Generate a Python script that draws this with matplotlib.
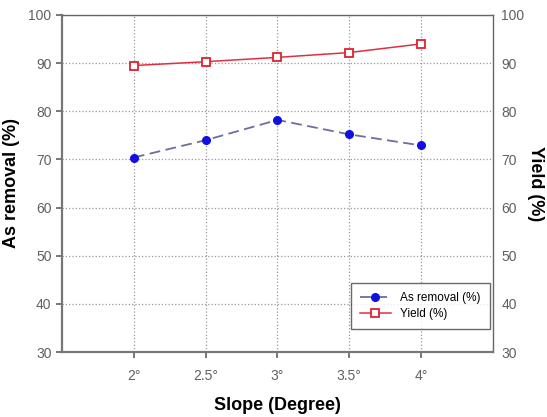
import matplotlib
matplotlib.use("Agg")
import matplotlib.pyplot as plt

plt.rcParams['font.family'] = ['Liberation Sans', 'DejaVu Sans']

slope = [2.0, 2.5, 3.0, 3.5, 4.0]
slope_labels = ['2°', '2.5°', '3°', '3.5°', '4°']
as_removal = [70.4, 74.0, 78.2, 75.2, 72.9]
yield_pct = [89.5, 90.3, 91.2, 92.2, 94.0]
y_ticks = [30, 40, 50, 60, 70, 80, 90, 100]

fig = plt.figure(figsize=(5.47, 4.17), dpi=100)
ax = fig.add_axes([62 / 547, 1 - 352 / 417, (493 - 62) / 547, (352 - 15) / 417])

ax.plot(slope, as_removal, linestyle=(0, (6, 3)), color='#6a6f9c', lw=1.3,
        marker='o', markersize=5.5, markerfacecolor='#1010e0',
        markeredgecolor='#1010e0', label='As removal (%)', zorder=3)
ax.plot(slope, yield_pct, linestyle='-', color='#e03040', lw=1.1,
        marker='s', markersize=6, markerfacecolor='white',
        markeredgecolor='#e02030', markeredgewidth=1.3, label='Yield (%)', zorder=3)

ax.set_xlim(1.5, 4.5)
ax.set_ylim(30, 100)
ax.set_xticks(slope)
ax.set_xticklabels(slope_labels)
ax.set_yticks(y_ticks)
ax.grid(True, linestyle=':', color='#999999', lw=0.9)

for s in ['left', 'bottom']:
    ax.spines[s].set_color('#777777')
    ax.spines[s].set_linewidth(1.6)
for s in ['top', 'right']:
    ax.spines[s].set_color('#666666')
    ax.spines[s].set_linewidth(1.0)

ax.tick_params(axis='both', labelsize=10, colors='#606060', length=4, width=1.2)
ax.tick_params(axis='x', pad=8)

ax.set_xlabel('Slope (Degree)', fontsize=13, fontweight='bold', labelpad=10)
ax.set_ylabel('As removal (%)', fontsize=13, fontweight='bold', labelpad=6)

ax2 = ax.twinx()
ax2.set_ylim(30, 100)
ax2.set_yticks(y_ticks)
ax2.tick_params(axis='y', labelsize=10, colors='#606060', length=0, pad=6)
for s in ax2.spines.values():
    s.set_visible(False)
ax2.set_ylabel('Yield (%)', fontsize=13, fontweight='bold', rotation=270, labelpad=14)

leg = ax.legend(loc='lower right', bbox_to_anchor=(1.007, 0.05), fontsize=8.5,
                frameon=True, fancybox=False, edgecolor='#444444',
                handlelength=2.6, borderpad=0.8, labelspacing=0.3)
leg.get_frame().set_linewidth(1.0)

fig.savefig('out.png', dpi=100)
